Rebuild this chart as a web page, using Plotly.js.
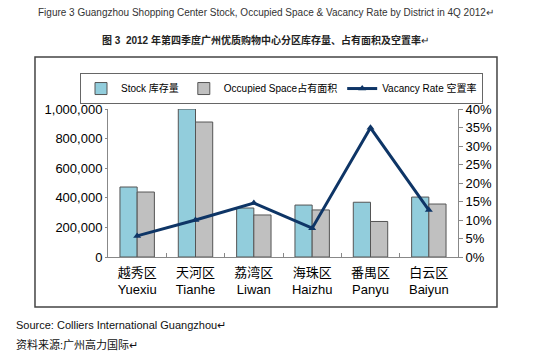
<!DOCTYPE html>
<html>
<head>
<meta charset="utf-8">
<script src="https://cdn.plot.ly/plotly-3.0.1.min.js"></script>
<style>html,body{margin:0;padding:0;background:#fff;}#chart{width:550px;height:361px;}</style>
</head>
<body>
<div id="chart"></div>
<script>
const districtsCN = ["越秀区", "天河区", "荔湾区", "海珠区", "番禺区", "白云区"];
const districtsEN = ["Yuexiu", "Tianhe", "Liwan", "Haizhu", "Panyu", "Baiyun"];
const stock = [473000, 1000000, 331000, 351000, 370000, 405000];
const occupied = [439000, 912000, 284000, 318000, 240000, 358000];
const vacancy = [0.057, 0.100, 0.146, 0.078, 0.349, 0.127];

const cats = districtsCN.map((c, i) => c + "<br>" + districtsEN[i]);
const FONT = "Liberation Sans, Arial, Noto Sans CJK SC, sans-serif";

const traces = [
  {type: "bar", name: "Stock 库存量", x: cats, y: stock,
   marker: {color: "#92CDDC", line: {color: "#555", width: 1}}},
  {type: "bar", name: "Occupied Space占有面积", x: cats, y: occupied,
   marker: {color: "#C0C0C0", line: {color: "#555", width: 1}}},
  {type: "scatter", mode: "lines+markers", name: "Vacancy Rate 空置率", x: cats, y: vacancy, yaxis: "y2",
   line: {color: "#0E3566", width: 3}, marker: {symbol: "triangle-up", size: 7, color: "#0E3566"}}
];

const layout = {
  width: 550, height: 361,
  margin: {l: 108, r: 92, t: 109, b: 104},
  paper_bgcolor: "#fff", plot_bgcolor: "#fff",
  font: {family: FONT, size: 13, color: "#000"},
  barmode: "group", bargap: 0.41, bargroupgap: 0,
  showlegend: true,
  legend: {orientation: "h", x: -0.08, xanchor: "left", y: 1.243, yanchor: "top",
           bordercolor: "#666", borderwidth: 1, bgcolor: "#fff", itemwidth: 30,
           font: {size: 10, family: FONT, color: "#000"}, traceorder: "normal"},
  xaxis: {showline: true, linecolor: "#888", linewidth: 1, ticks: "inside", tickson: "boundaries",
          ticklen: 4, tickcolor: "#888", showgrid: false, tickfont: {size: 13}, fixedrange: true,
          ticklabelstandoff: 3},
  yaxis: {range: [0, 1000000], dtick: 200000, tickformat: ",", showline: true, linecolor: "#888",
          ticks: "outside", ticklen: 2, tickcolor: "#888", showgrid: false, zeroline: false,
          tickfont: {size: 13}},
  yaxis2: {range: [0, 0.4], dtick: 0.05, tickformat: ".0%", overlaying: "y", side: "right",
           showline: true, linecolor: "#888", ticks: "outside", ticklen: 4, tickcolor: "#888",
           showgrid: false, zeroline: false, tickfont: {size: 13}},
  shapes: [{type: "rect", xref: "paper", yref: "paper", x0: -0.2086, x1: 1.1114, y0: -0.338, y1: 1.351,
            line: {color: "#444", width: 1.5}, fillcolor: "rgba(0,0,0,0)", layer: "below"}],
  annotations: [
    {text: "Figure 3 Guangzhou Shopping Center Stock, Occupied Space & Vacancy Rate by District in 4Q 2012↵",
     xref: "paper", yref: "paper", x: 0.451, y: 1.655, xanchor: "center", yanchor: "middle", showarrow: false,
     font: {size: 10, color: "#333", family: FONT}},
    {text: "<b>图 3  2012 年第四季度广州优质购物中心分区库存量、占有面积及空置率</b>↵",
     xref: "paper", yref: "paper", x: 0.451, y: 1.466, xanchor: "center", yanchor: "middle", showarrow: false,
     font: {size: 10, color: "#222", family: FONT}},
    {text: "Source: Colliers International Guangzhou↵",
     xref: "paper", yref: "paper", x: -0.2686, y: -0.459, xanchor: "left", yanchor: "middle", showarrow: false,
     font: {size: 11, color: "#111", family: FONT}},
    {text: "资料来源:广州高力国际↵",
     xref: "paper", yref: "paper", x: -0.2686, y: -0.588, xanchor: "left", yanchor: "middle", showarrow: false,
     font: {size: 11, color: "#111", family: FONT}}
  ]
};

Plotly.newPlot("chart", traces, layout, {staticPlot: true, displayModeBar: false});
</script>
</body>
</html>
